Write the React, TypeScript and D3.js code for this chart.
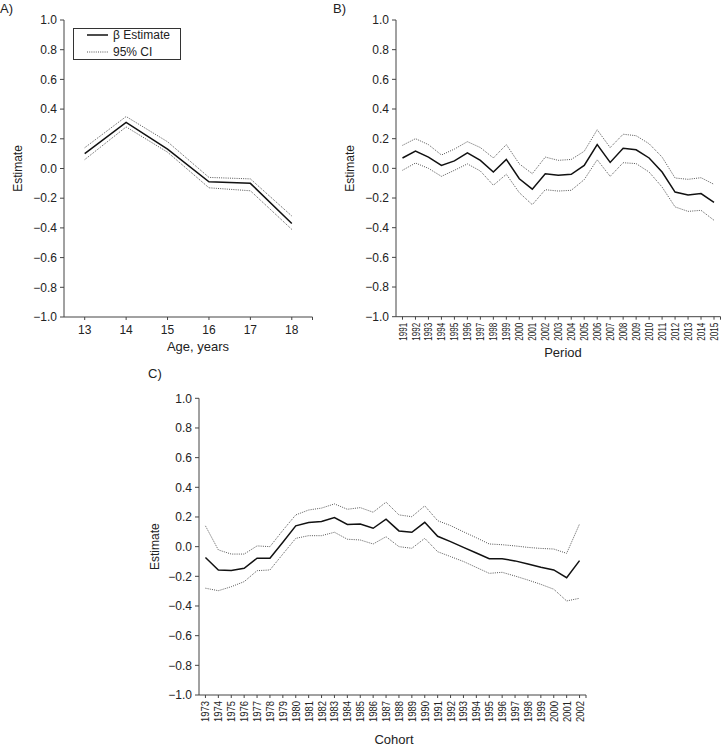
import React from "react";
import * as d3 from "d3";

const ageCats = [13, 14, 15, 16, 17, 18];
const ageEst = [0.10, 0.31, 0.13, -0.09, -0.10, -0.37];
const ageUpper = [0.14, 0.35, 0.18, -0.06, -0.07, -0.32];
const ageLower = [0.06, 0.28, 0.11, -0.13, -0.15, -0.41];

const periodCats = d3.range(1991, 2016);
const periodEst = [0.07, 0.117, 0.076, 0.02, 0.05, 0.105, 0.054, -0.025, 0.06, -0.07, -0.14, -0.036, -0.047, -0.04, 0.02, 0.16, 0.04, 0.135, 0.125, 0.07, -0.025, -0.16, -0.18, -0.17, -0.23];
const periodUpper = [0.155, 0.2, 0.16, 0.09, 0.13, 0.18, 0.14, 0.07, 0.16, 0.03, -0.036, 0.076, 0.054, 0.06, 0.115, 0.26, 0.14, 0.23, 0.22, 0.166, 0.076, -0.065, -0.074, -0.063, -0.108];
const periodLower = [-0.013, 0.036, 0, -0.054, -0.013, 0.03, -0.018, -0.114, -0.04, -0.164, -0.245, -0.144, -0.153, -0.148, -0.076, 0.058, -0.054, 0.038, 0.032, -0.025, -0.126, -0.26, -0.29, -0.283, -0.35];

const cohortCats = d3.range(1973, 2003);
const cohortEst = [-0.073, -0.157, -0.16, -0.146, -0.078, -0.078, 0.03, 0.14, 0.162, 0.169, 0.196, 0.15, 0.153, 0.124, 0.185, 0.106, 0.097, 0.164, 0.07, 0.034, -0.005, -0.043, -0.081, -0.081, -0.096, -0.117, -0.139, -0.157, -0.209, -0.094];
const cohortUpper = [0.14, -0.022, -0.05, -0.05, 0.005, 0, 0.11, 0.214, 0.247, 0.26, 0.288, 0.252, 0.263, 0.232, 0.3, 0.214, 0.202, 0.275, 0.175, 0.142, 0.1, 0.06, 0.018, 0.013, 0.005, -0.005, -0.012, -0.016, -0.045, 0.153];
const cohortLower = [-0.28, -0.297, -0.27, -0.236, -0.162, -0.157, -0.05, 0.056, 0.074, 0.074, 0.097, 0.05, 0.045, 0.018, 0.067, 0, -0.011, 0.056, -0.034, -0.067, -0.1, -0.14, -0.18, -0.173, -0.198, -0.225, -0.254, -0.287, -0.366, -0.348];

const yTicks = [1.0, 0.8, 0.6, 0.4, 0.2, 0.0, -0.2, -0.4, -0.6, -0.8, -1.0];

const FONT = "'Liberation Sans', Arial, sans-serif";
const TXT = "#222";
const AX = "#444";

type PanelProps = {
  cats: number[];
  est: number[];
  upper: number[];
  lower: number[];
  x0: number; x1: number; yTop: number; yBot: number;
  rotated: boolean;
  labelLen: number;
  xTitle: string; xTitleX: number; xTitleY: number;
  yTitleX: number;
  letter: string; letterX: number; letterY: number;
};

function fmt(v: number) {
  const s = Math.abs(v).toFixed(1);
  return v < -0.001 ? "\u2212" + s : s;
}

function Panel(p: PanelProps) {
  const x = d3.scaleLinear().domain([p.cats[0] - 0.5, p.cats[p.cats.length - 1] + 0.5]).range([p.x0, p.x1]);
  const y = d3.scaleLinear().domain([-1, 1]).range([p.yBot, p.yTop]);
  const line = d3.line<number>().x((_, i) => x(p.cats[i])).y((d) => y(d));
  const yMid = (p.yTop + p.yBot) / 2;
  return (
    <g>
      <text x={p.letterX} y={p.letterY} fontSize={13} fill={TXT} fontFamily={FONT}>{p.letter}</text>
      {/* y axis */}
      <line x1={p.x0} x2={p.x0} y1={y(1)} y2={y(-1)} stroke={AX} strokeWidth={1} />
      {yTicks.map((t) => (
        <g key={t}>
          <line x1={p.x0 - 4} x2={p.x0} y1={y(t)} y2={y(t)} stroke={AX} strokeWidth={1} />
          <text x={p.x0 - 7} y={y(t)} dy="0.35em" textAnchor="end" fontSize={12} fill={TXT} fontFamily={FONT}>{fmt(t)}</text>
        </g>
      ))}
      {/* x axis */}
      <line x1={p.x0} x2={p.x1} y1={p.yBot} y2={p.yBot} stroke={AX} strokeWidth={1} />
      <line x1={p.x1} x2={p.x1} y1={p.yBot} y2={p.yBot + 3} stroke={AX} strokeWidth={1} />
      {p.cats.map((c) => (
        <g key={c}>
          <line x1={x(c)} x2={x(c)} y1={p.yBot} y2={p.yBot + 3} stroke={AX} strokeWidth={1} />
          {p.rotated ? (
            <text
              transform={`translate(${x(c)},${p.yBot + 6}) rotate(-90)`}
              dy="0.35em"
              textAnchor="end"
              fontSize={11.5}
              textLength={p.labelLen}
              lengthAdjust="spacingAndGlyphs"
              fill={TXT}
              fontFamily={FONT}
            >{c}</text>
          ) : (
            <text x={x(c)} y={p.yBot + 17} textAnchor="middle" fontSize={12} fill={TXT} fontFamily={FONT}>{c}</text>
          )}
        </g>
      ))}
      <text x={p.xTitleX} y={p.xTitleY} textAnchor="middle" fontSize={13} fill={TXT} fontFamily={FONT}>{p.xTitle}</text>
      <text transform={`translate(${p.yTitleX},${yMid}) rotate(-90)`} textAnchor="middle" dy="0.35em" fontSize={12} fill={TXT} fontFamily={FONT}>Estimate</text>
      {/* lines */}
      <path d={line(p.upper) || ""} fill="none" stroke="#555" strokeWidth={1} strokeDasharray="1,1.2" />
      <path d={line(p.lower) || ""} fill="none" stroke="#555" strokeWidth={1} strokeDasharray="1,1.2" />
      <path d={line(p.est) || ""} fill="none" stroke="#111" strokeWidth={1.5} />
    </g>
  );
}

export default function App() {
  return (
    <svg width={722} height={748} style={{ position: "absolute", left: 0, top: 0, background: "#fff" }}>
      <rect width={722} height={748} fill="#fff" />
      <Panel
        cats={ageCats} est={ageEst} upper={ageUpper} lower={ageLower}
        x0={64} x1={312.5} yTop={20} yBot={317}
        rotated={false} labelLen={0}
        xTitle="Age, years" xTitleX={198} xTitleY={351}
        yTitleX={18}
        letter="A)" letterX={0} letterY={13}
      />
      <Panel
        cats={periodCats} est={periodEst} upper={periodUpper} lower={periodLower}
        x0={396} x1={720.5} yTop={20} yBot={316.7}
        rotated={true} labelLen={18}
        xTitle="Period" xTitleX={563} xTitleY={357}
        yTitleX={350}
        letter="B)" letterX={333} letterY={13}
      />
      <Panel
        cats={cohortCats} est={cohortEst} upper={cohortUpper} lower={cohortLower}
        x0={199} x1={586} yTop={398.3} yBot={695}
        rotated={true} labelLen={21}
        xTitle="Cohort" xTitleX={394} xTitleY={744}
        yTitleX={155}
        letter="C)" letterX={148} letterY={378}
      />
      {/* legend */}
      <g>
        <rect x={73.5} y={28.5} width={107} height={31} fill="#fff" stroke="#333" strokeWidth={1} />
        <line x1={87} x2={108} y1={35} y2={35} stroke="#111" strokeWidth={1.5} />
        <line x1={87} x2={108} y1={52} y2={52} stroke="#555" strokeWidth={1} strokeDasharray="1,1.2" />
        <text x={113} y={35} dy="0.35em" fontSize={12} fill={TXT} fontFamily={FONT}>β Estimate</text>
        <text x={113} y={52} dy="0.35em" fontSize={12} fill={TXT} fontFamily={FONT}>95% CI</text>
      </g>
    </svg>
  );
}
